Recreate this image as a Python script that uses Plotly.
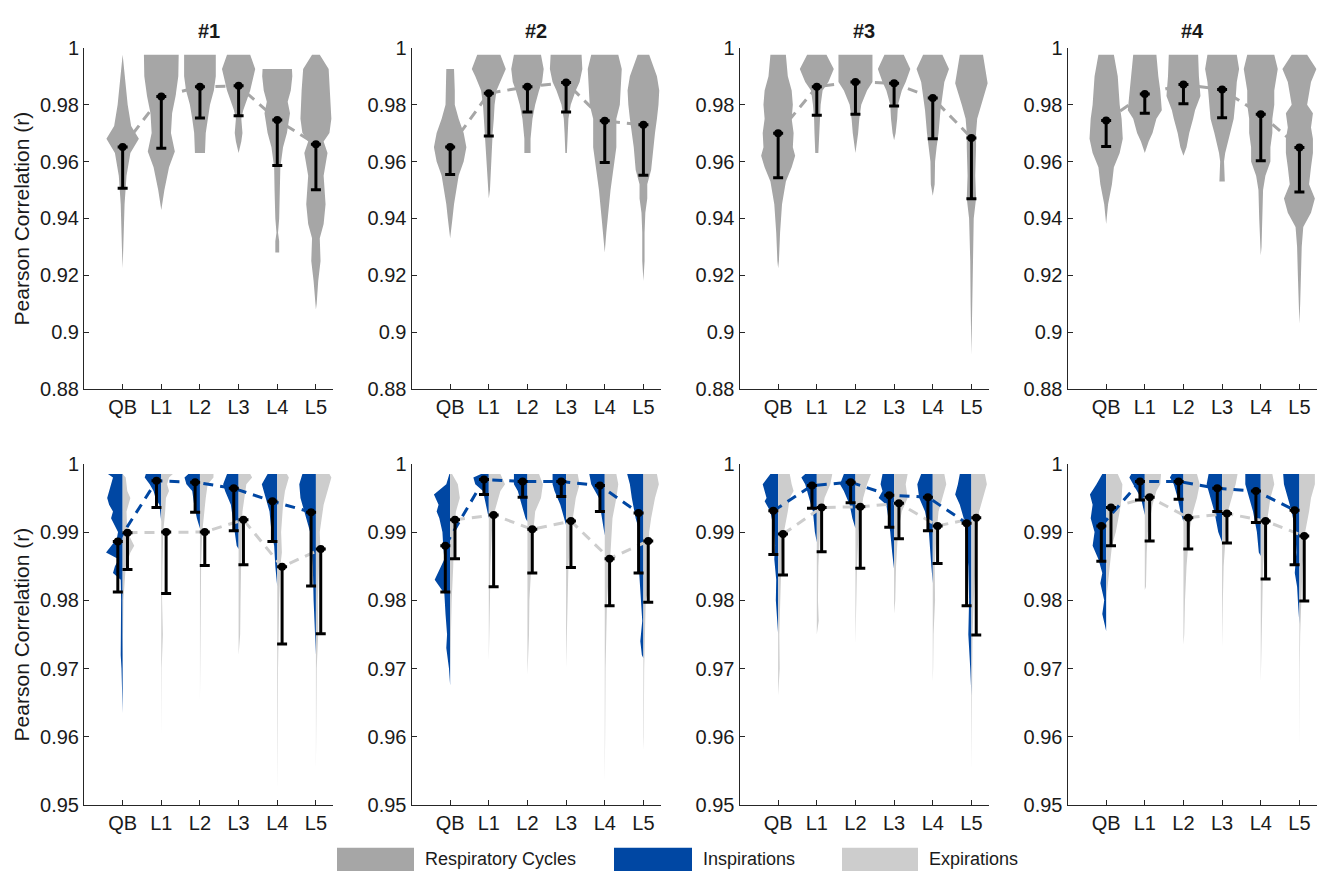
import plotly.graph_objects as go

# ---------------- data ----------------
categories = ["QB", "L1", "L2", "L3", "L4", "L5"]
subjects = ["#1", "#2", "#3", "#4"]
legend_names = ["Respiratory Cycles", "Inspirations", "Expirations"]

top_ticks = [0.88, 0.90, 0.92, 0.94, 0.96, 0.98, 1.00]
top_ticktext = ["0.88", "0.9", "0.92", "0.94", "0.96", "0.98", "1"]
bot_ticks = [0.95, 0.96, 0.97, 0.98, 0.99, 1.00]
bot_ticktext = ["0.95", "0.96", "0.97", "0.98", "0.99", "1"]

# Respiratory cycles (top row): dot value and lower whisker end
cyc_dot = [
    [0.9651, 0.9829, 0.9863, 0.9866, 0.9746, 0.9661],
    [0.9651, 0.9840, 0.9863, 0.9878, 0.9743, 0.9729],
    [0.9699, 0.9863, 0.9880, 0.9875, 0.9823, 0.9683],
    [0.9744, 0.9837, 0.9871, 0.9853, 0.9766, 0.9649],
]
cyc_low = [
    [0.9506, 0.9647, 0.9753, 0.9761, 0.9586, 0.9501],
    [0.9554, 0.9690, 0.9774, 0.9774, 0.9597, 0.9552],
    [0.9543, 0.9763, 0.9766, 0.9795, 0.9680, 0.9469],
    [0.9653, 0.9770, 0.9803, 0.9754, 0.9603, 0.9493],
]
# Inspirations / Expirations (bottom row)
insp_dot = [
    [0.9886, 0.9975, 0.9973, 0.9964, 0.9945, 0.9929],
    [0.9880, 0.9977, 0.9974, 0.9974, 0.9968, 0.9928],
    [0.9931, 0.9968, 0.9973, 0.9954, 0.9951, 0.9913],
    [0.9909, 0.9974, 0.9974, 0.9964, 0.9960, 0.9932],
]
insp_low = [
    [0.9812, 0.9936, 0.9929, 0.9902, 0.9886, 0.9821],
    [0.9812, 0.9955, 0.9951, 0.9952, 0.9930, 0.9840],
    [0.9867, 0.9935, 0.9943, 0.9907, 0.9902, 0.9792],
    [0.9857, 0.9947, 0.9948, 0.9930, 0.9914, 0.9852],
]
exp_dot = [
    [0.9899, 0.9900, 0.9900, 0.9918, 0.9849, 0.9875],
    [0.9918, 0.9925, 0.9904, 0.9916, 0.9861, 0.9887],
    [0.9897, 0.9936, 0.9937, 0.9942, 0.9909, 0.9921],
    [0.9936, 0.9951, 0.9921, 0.9927, 0.9916, 0.9894],
]
exp_low = [
    [0.9845, 0.9810, 0.9851, 0.9852, 0.9736, 0.9751],
    [0.9861, 0.9820, 0.9840, 0.9848, 0.9792, 0.9797],
    [0.9837, 0.9871, 0.9847, 0.9890, 0.9854, 0.9749],
    [0.9880, 0.9887, 0.9875, 0.9884, 0.9831, 0.9799],
]

# Violin outlines: (r value, half width in category units)
cyc_shape_1 = [
    [(0.9975, 0), (0.99, 0.06), (0.98, 0.13), (0.9725, 0.22), (0.968, 0.42), (0.963, 0.2), (0.955, 0.1), (0.945, 0.05), (0.935, 0.04), (0.93, 0.02), (0.9225, 0)],
    [(0.9975, 0.45), (0.99, 0.44), (0.983, 0.37), (0.977, 0.28), (0.97, 0.25), (0.9635, 0.35), (0.958, 0.2), (0.95, 0.08), (0.943, 0)],
    [(0.9975, 0.41), (0.99, 0.41), (0.985, 0.36), (0.98, 0.26), (0.975, 0.2), (0.97, 0.15), (0.963, 0.13)],
    [(0.9975, 0.3), (0.9925, 0.43), (0.985, 0.3), (0.978, 0.12), (0.975, 0.07), (0.97, 0.1), (0.967, 0.07), (0.963, 0)],
    [(0.9925, 0.38), (0.99, 0.39), (0.985, 0.35), (0.981, 0.27), (0.977, 0.33), (0.97, 0.25), (0.965, 0.15), (0.958, 0.08), (0.95, 0.07), (0.94, 0.05), (0.935, 0.02), (0.932, 0.05), (0.928, 0.05)],
    [(0.9975, 0.1), (0.9925, 0.33), (0.985, 0.37), (0.975, 0.4), (0.97, 0.35), (0.967, 0.2), (0.963, 0.3), (0.955, 0.2), (0.945, 0.25), (0.938, 0.2), (0.933, 0.1), (0.925, 0.12), (0.918, 0.06), (0.91, 0.02), (0.908, 0)],
]
cyc_shape_2 = [
    [(0.9925, 0.1), (0.985, 0.12), (0.98, 0.12), (0.975, 0.22), (0.97, 0.35), (0.965, 0.42), (0.96, 0.35), (0.955, 0.22), (0.945, 0.1), (0.94, 0.06), (0.933, 0)],
    [(0.9975, 0.3), (0.9925, 0.44), (0.99, 0.35), (0.985, 0.2), (0.98, 0.15), (0.975, 0.13), (0.97, 0.1), (0.96, 0.06), (0.95, 0.03), (0.947, 0)],
    [(0.9975, 0.35), (0.9925, 0.42), (0.988, 0.38), (0.985, 0.3), (0.98, 0.2), (0.975, 0.13), (0.968, 0.08), (0.963, 0.08)],
    [(0.9975, 0.4), (0.9925, 0.42), (0.988, 0.35), (0.985, 0.25), (0.98, 0.12), (0.975, 0.06), (0.97, 0.04), (0.963, 0.02)],
    [(0.9975, 0.35), (0.9925, 0.44), (0.985, 0.41), (0.98, 0.39), (0.975, 0.3), (0.97, 0.3), (0.965, 0.3), (0.96, 0.25), (0.95, 0.15), (0.94, 0.08), (0.935, 0.04), (0.928, 0)],
    [(0.9975, 0.15), (0.99, 0.35), (0.985, 0.41), (0.98, 0.39), (0.975, 0.35), (0.97, 0.3), (0.965, 0.25), (0.957, 0.2), (0.952, 0.1), (0.947, 0.1), (0.942, 0.05), (0.935, 0.03), (0.925, 0.03), (0.918, 0)],
]
cyc_shape_3 = [
    [(0.9975, 0.2), (0.99, 0.25), (0.985, 0.35), (0.98, 0.38), (0.975, 0.35), (0.97, 0.4), (0.965, 0.38), (0.962, 0.44), (0.958, 0.35), (0.953, 0.2), (0.945, 0.1), (0.935, 0.05), (0.925, 0.02), (0.9225, 0)],
    [(0.9975, 0.25), (0.9925, 0.44), (0.988, 0.3), (0.985, 0.15), (0.98, 0.1), (0.975, 0.07), (0.97, 0.06), (0.963, 0.04)],
    [(0.9975, 0.44), (0.988, 0.44), (0.985, 0.3), (0.98, 0.15), (0.975, 0.1), (0.97, 0.07), (0.963, 0)],
    [(0.9975, 0.25), (0.9925, 0.42), (0.988, 0.3), (0.985, 0.2), (0.98, 0.1), (0.975, 0.08), (0.97, 0.04), (0.9675, 0)],
    [(0.9975, 0.25), (0.9925, 0.42), (0.988, 0.3), (0.983, 0.25), (0.978, 0.2), (0.97, 0.15), (0.965, 0.1), (0.96, 0.06), (0.952, 0.05), (0.948, 0)],
    [(0.9975, 0.3), (0.9875, 0.42), (0.98, 0.25), (0.975, 0.15), (0.97, 0.12), (0.965, 0.12), (0.955, 0.1), (0.947, 0.12), (0.94, 0.06), (0.935, 0.05), (0.925, 0.03), (0.91, 0.02), (0.9, 0.01), (0.892, 0)],
]
cyc_shape_4 = [
    [(0.9975, 0.2), (0.99, 0.3), (0.98, 0.35), (0.975, 0.4), (0.968, 0.43), (0.963, 0.35), (0.958, 0.2), (0.952, 0.15), (0.945, 0.05), (0.938, 0)],
    [(0.9975, 0.3), (0.99, 0.35), (0.985, 0.4), (0.978, 0.44), (0.975, 0.3), (0.97, 0.2), (0.967, 0.1), (0.963, 0)],
    [(0.9975, 0.38), (0.99, 0.4), (0.983, 0.44), (0.978, 0.3), (0.975, 0.25), (0.97, 0.15), (0.965, 0.08), (0.962, 0)],
    [(0.9975, 0.38), (0.9925, 0.44), (0.988, 0.38), (0.982, 0.35), (0.975, 0.3), (0.97, 0.2), (0.963, 0.08), (0.96, 0.05), (0.953, 0.07)],
    [(0.9975, 0.35), (0.9925, 0.44), (0.985, 0.35), (0.98, 0.35), (0.975, 0.3), (0.97, 0.3), (0.965, 0.25), (0.96, 0.25), (0.955, 0.12), (0.95, 0.06), (0.94, 0.04), (0.93, 0.02), (0.927, 0)],
    [(0.9975, 0.2), (0.9925, 0.44), (0.988, 0.3), (0.98, 0.2), (0.977, 0.35), (0.972, 0.3), (0.968, 0.35), (0.963, 0.35), (0.958, 0.3), (0.952, 0.25), (0.947, 0.4), (0.942, 0.3), (0.937, 0.1), (0.93, 0.06), (0.92, 0.04), (0.91, 0.02), (0.903, 0)],
]

insp_shape_1 = [
    [(0.9985, 0.38), (0.998, 0.25), (0.997, 0.3), (0.996, 0.35), (0.995, 0.4), (0.994, 0.35), (0.993, 0.25), (0.992, 0.3), (0.991, 0.2), (0.99, 0.12), (0.989, 0.15), (0.988, 0.3), (0.987, 0.43), (0.986, 0.1), (0.985, 0.2), (0.984, 0.25), (0.983, 0.05), (0.98, 0.04), (0.975, 0.05), (0.972, 0.05), (0.97, 0.03), (0.9635, 0)],
    [(0.9985, 0.4), (0.998, 0.43), (0.997, 0.3), (0.996, 0.2), (0.995, 0.15), (0.994, 0.05), (0.9915, 0)],
    [(0.9985, 0.3), (0.998, 0.4), (0.997, 0.35), (0.996, 0.2), (0.994, 0.15), (0.992, 0.08), (0.9905, 0)],
    [(0.9985, 0.3), (0.997, 0.4), (0.996, 0.35), (0.994, 0.2), (0.992, 0.15), (0.99, 0.1), (0.988, 0.05), (0.9875, 0)],
    [(0.9985, 0.25), (0.997, 0.4), (0.996, 0.35), (0.995, 0.3), (0.993, 0.2), (0.99, 0.15), (0.988, 0.08), (0.985, 0.05), (0.982, 0)],
    [(0.9985, 0.35), (0.997, 0.43), (0.995, 0.4), (0.993, 0.3), (0.99, 0.15), (0.987, 0.1), (0.985, 0.08), (0.98, 0.06), (0.975, 0.03), (0.972, 0)],
]
insp_shape_2 = [
    [(0.9985, 0.02), (0.997, 0.1), (0.996, 0.3), (0.9955, 0.42), (0.994, 0.3), (0.993, 0.35), (0.992, 0.28), (0.99, 0.2), (0.988, 0.18), (0.986, 0.15), (0.983, 0.4), (0.981, 0.15), (0.978, 0.12), (0.975, 0.08), (0.973, 0.1), (0.97, 0.03), (0.9675, 0)],
    [(0.9985, 0.2), (0.998, 0.4), (0.997, 0.35), (0.996, 0.15), (0.994, 0.08), (0.992, 0)],
    [(0.9985, 0.35), (0.997, 0.35), (0.996, 0.25), (0.994, 0.15), (0.992, 0.05), (0.9915, 0)],
    [(0.9985, 0.35), (0.997, 0.35), (0.996, 0.3), (0.994, 0.15), (0.992, 0.05), (0.991, 0)],
    [(0.9985, 0.4), (0.997, 0.35), (0.995, 0.15), (0.993, 0.1), (0.991, 0.05), (0.9895, 0)],
    [(0.9985, 0.42), (0.997, 0.35), (0.995, 0.3), (0.992, 0.2), (0.99, 0.1), (0.985, 0.12), (0.982, 0.08), (0.98, 0.06), (0.977, 0.03), (0.974, 0.08), (0.972, 0.04), (0.9715, 0)],
]
insp_shape_3 = [
    [(0.9985, 0.2), (0.997, 0.4), (0.995, 0.3), (0.9945, 0.35), (0.993, 0.2), (0.99, 0.1), (0.988, 0.08), (0.986, 0.1), (0.983, 0.05), (0.98, 0.06), (0.978, 0.03), (0.975, 0)],
    [(0.9985, 0.3), (0.998, 0.4), (0.997, 0.3), (0.995, 0.2), (0.993, 0.1), (0.99, 0.05), (0.9885, 0)],
    [(0.9985, 0.3), (0.997, 0.4), (0.996, 0.3), (0.994, 0.15), (0.992, 0.08), (0.9905, 0)],
    [(0.9985, 0.3), (0.997, 0.35), (0.996, 0.3), (0.995, 0.4), (0.994, 0.2), (0.992, 0.15), (0.99, 0.1), (0.987, 0.05), (0.9845, 0)],
    [(0.9985, 0.3), (0.997, 0.4), (0.995, 0.35), (0.993, 0.2), (0.99, 0.1), (0.986, 0.05), (0.9825, 0)],
    [(0.9985, 0.3), (0.997, 0.35), (0.9955, 0.42), (0.994, 0.3), (0.992, 0.2), (0.99, 0.15), (0.987, 0.1), (0.985, 0.08), (0.98, 0.06), (0.975, 0.08), (0.97, 0.03), (0.966, 0)],
]
insp_shape_4 = [
    [(0.9985, 0.1), (0.997, 0.25), (0.9955, 0.42), (0.994, 0.35), (0.992, 0.4), (0.99, 0.3), (0.988, 0.35), (0.986, 0.2), (0.984, 0.1), (0.9825, 0.15), (0.98, 0.05), (0.978, 0.1), (0.9765, 0.03), (0.9755, 0)],
    [(0.9985, 0.35), (0.998, 0.4), (0.997, 0.3), (0.996, 0.2), (0.995, 0.1), (0.993, 0.02), (0.9925, 0)],
    [(0.9985, 0.3), (0.998, 0.35), (0.997, 0.25), (0.995, 0.15), (0.993, 0.08), (0.9915, 0)],
    [(0.9985, 0.35), (0.997, 0.4), (0.995, 0.3), (0.993, 0.2), (0.99, 0.1), (0.9885, 0)],
    [(0.9985, 0.4), (0.997, 0.4), (0.995, 0.3), (0.993, 0.2), (0.99, 0.1), (0.987, 0.05), (0.9865, 0)],
    [(0.9985, 0.42), (0.997, 0.4), (0.995, 0.3), (0.993, 0.2), (0.99, 0.1), (0.987, 0.08), (0.984, 0.12), (0.982, 0.06), (0.98, 0.04), (0.9765, 0)],
]

exp_shape_1 = [
    [(0.9985, 0), (0.998, 0.08), (0.996, 0.12), (0.995, 0.2), (0.994, 0.15), (0.993, 0.1), (0.99, 0.12), (0.988, 0.3), (0.987, 0.2), (0.985, 0.08), (0.98, 0.02), (0.975, 0.01), (0.97, 0)],
    [(0.9985, 0.3), (0.998, 0.2), (0.997, 0.15), (0.996, 0.2), (0.995, 0.12), (0.993, 0.1), (0.99, 0.05), (0.985, 0.03), (0.98, 0.02), (0.975, 0.04), (0.97, 0.01), (0.96, 0)],
    [(0.9985, 0.35), (0.998, 0.35), (0.997, 0.2), (0.995, 0.15), (0.993, 0.12), (0.99, 0.06), (0.985, 0.03), (0.98, 0.02), (0.975, 0.02), (0.965, 0)],
    [(0.9985, 0.3), (0.998, 0.35), (0.997, 0.2), (0.995, 0.15), (0.993, 0.1), (0.99, 0.08), (0.985, 0.06), (0.98, 0.05), (0.975, 0.04), (0.972, 0)],
    [(0.9985, 0.25), (0.998, 0.3), (0.996, 0.2), (0.994, 0.15), (0.99, 0.1), (0.987, 0.12), (0.985, 0.08), (0.98, 0.05), (0.975, 0.03), (0.97, 0.02), (0.96, 0.01), (0.952, 0)],
    [(0.9985, 0.35), (0.998, 0.4), (0.996, 0.3), (0.994, 0.2), (0.992, 0.15), (0.99, 0.1), (0.987, 0.12), (0.985, 0.08), (0.98, 0.05), (0.975, 0.06), (0.97, 0.02), (0.96, 0.01), (0.955, 0)],
]
exp_shape_2 = [
    [(0.9985, 0.05), (0.997, 0.2), (0.995, 0.25), (0.993, 0.15), (0.99, 0.1), (0.985, 0.08), (0.98, 0.04), (0.975, 0.02), (0.97, 0)],
    [(0.9985, 0.3), (0.997, 0.42), (0.996, 0.3), (0.994, 0.2), (0.992, 0.1), (0.99, 0.08), (0.985, 0.04), (0.98, 0.03), (0.975, 0.02), (0.971, 0)],
    [(0.9985, 0.3), (0.997, 0.4), (0.995, 0.35), (0.993, 0.2), (0.99, 0.15), (0.985, 0.1), (0.98, 0.05), (0.975, 0.04), (0.97, 0.02), (0.969, 0)],
    [(0.9985, 0.3), (0.997, 0.35), (0.995, 0.25), (0.993, 0.2), (0.99, 0.12), (0.985, 0.06), (0.98, 0.04), (0.975, 0.02), (0.97, 0)],
    [(0.9985, 0.3), (0.997, 0.35), (0.995, 0.3), (0.992, 0.2), (0.989, 0.18), (0.987, 0.15), (0.985, 0.12), (0.98, 0.06), (0.975, 0.04), (0.97, 0.02), (0.96, 0.01), (0.953, 0)],
    [(0.9985, 0.35), (0.997, 0.4), (0.995, 0.3), (0.992, 0.2), (0.99, 0.15), (0.985, 0.12), (0.982, 0.15), (0.98, 0.06), (0.975, 0.04), (0.97, 0.02), (0.96, 0.01), (0.958, 0)],
]
exp_shape_3 = [
    [(0.9985, 0.3), (0.997, 0.35), (0.996, 0.4), (0.995, 0.3), (0.993, 0.25), (0.99, 0.15), (0.988, 0.1), (0.985, 0.08), (0.98, 0.05), (0.975, 0.03), (0.97, 0.04), (0.966, 0)],
    [(0.9985, 0.4), (0.997, 0.35), (0.995, 0.2), (0.993, 0.15), (0.99, 0.08), (0.985, 0.04), (0.98, 0.03), (0.977, 0.05), (0.975, 0)],
    [(0.9985, 0.4), (0.997, 0.3), (0.995, 0.2), (0.993, 0.15), (0.99, 0.08), (0.985, 0.04), (0.98, 0.02), (0.9735, 0)],
    [(0.9985, 0.35), (0.997, 0.3), (0.995, 0.35), (0.993, 0.2), (0.99, 0.1), (0.985, 0.05), (0.98, 0.03), (0.978, 0)],
    [(0.9985, 0.3), (0.997, 0.35), (0.995, 0.25), (0.993, 0.15), (0.99, 0.1), (0.985, 0.05), (0.98, 0.06), (0.975, 0.02), (0.97, 0.01), (0.968, 0)],
    [(0.9985, 0.35), (0.997, 0.4), (0.995, 0.3), (0.993, 0.2), (0.99, 0.15), (0.985, 0.1), (0.98, 0.06), (0.975, 0.03), (0.97, 0.02), (0.96, 0.01), (0.955, 0)],
]
exp_shape_4 = [
    [(0.9985, 0.3), (0.997, 0.42), (0.995, 0.4), (0.993, 0.35), (0.99, 0.25), (0.988, 0.15), (0.985, 0.1), (0.983, 0.05), (0.98, 0)],
    [(0.9985, 0.42), (0.997, 0.4), (0.996, 0.3), (0.994, 0.2), (0.99, 0.08), (0.987, 0.05), (0.985, 0.04), (0.982, 0.03), (0.9815, 0)],
    [(0.9985, 0.35), (0.997, 0.42), (0.995, 0.35), (0.993, 0.25), (0.99, 0.15), (0.985, 0.08), (0.98, 0.04), (0.975, 0.02), (0.9735, 0)],
    [(0.9985, 0.4), (0.997, 0.35), (0.995, 0.25), (0.993, 0.15), (0.99, 0.1), (0.985, 0.04), (0.98, 0.02), (0.973, 0)],
    [(0.9985, 0.3), (0.997, 0.35), (0.995, 0.25), (0.993, 0.2), (0.99, 0.12), (0.985, 0.06), (0.98, 0.04), (0.975, 0.02), (0.97, 0.01), (0.968, 0)],
    [(0.9985, 0.4), (0.997, 0.4), (0.995, 0.3), (0.993, 0.25), (0.99, 0.15), (0.985, 0.08), (0.98, 0.05), (0.975, 0.02), (0.97, 0.01), (0.96, 0.005), (0.958, 0)],
]

cyc_shapes = [cyc_shape_1, cyc_shape_2, cyc_shape_3, cyc_shape_4]
insp_shapes = [insp_shape_1, insp_shape_2, insp_shape_3, insp_shape_4]
exp_shapes = [exp_shape_1, exp_shape_2, exp_shape_3, exp_shape_4]

# ---------------- style ----------------
FONT = "Liberation Sans, Arial, Helvetica, sans-serif"
TXT = "#1a1a1a"
AX = "#262626"
C_CYC = "#a6a6a6"
C_INSP = "#0047a3"
C_EXP = "#cdcdcd"
W, H = 1323, 885
SIDE = 0.125  # horizontal offset of split error bars

panel_left_px = [84.0, 411.5, 739.5, 1067.5]
panel_w_px = 249.3
row_top_px = [(37.7, 387.7), (464.3, 814.3)]
x_range = [0, 6.45]
positions = list(range(1, len(categories) + 1))


def full_violin(profiles):
    xs, ys = [], []
    for pos, prof in zip(positions, profiles):
        xs += [pos - w for _, w in prof] + [pos + w for _, w in reversed(prof)] + [None]
        ys += [y for y, _ in prof] + [y for y, _ in reversed(prof)] + [None]
    return xs, ys


def half_violin(profiles, sign):
    xs, ys = [], []
    for pos, prof in zip(positions, profiles):
        xs += [pos] + [pos + sign * w for _, w in prof] + [pos, None]
        ys += [prof[0][0]] + [y for y, _ in prof] + [prof[-1][0], None]
    return xs, ys


def errbar(xs, dots, lows, xa, ya):
    return go.Scatter(
        x=xs, y=dots, xaxis=xa, yaxis=ya, mode="markers",
        marker=dict(color="black", size=8),
        error_y=dict(type="data", symmetric=False,
                     array=[0] * len(dots),
                     arrayminus=[d - l for d, l in zip(dots, lows)],
                     color="black", thickness=3, width=5),
        hoverinfo="skip", showlegend=False,
    )


def dashed(xs, ys, color, xa, ya):
    return go.Scatter(x=xs, y=ys, xaxis=xa, yaxis=ya, mode="lines",
                      line=dict(color=color, width=3, dash="10px,7px"),
                      hoverinfo="skip", showlegend=False)


fig = go.Figure()
layout = dict(
    width=W, height=H, autosize=False, margin=dict(l=0, r=0, t=0, b=0, pad=0),
    paper_bgcolor="white", plot_bgcolor="white", showlegend=False,
    font=dict(family=FONT, size=20, color=TXT),
)

annotations = []
shapes = []

for r in range(2):
    for p in range(4):
        n = r * 4 + p + 1
        xa, ya = f"x{n}" if n > 1 else "x", f"y{n}" if n > 1 else "y"
        xkey = f"xaxis{n}" if n > 1 else "xaxis"
        ykey = f"yaxis{n}" if n > 1 else "yaxis"
        x0 = panel_left_px[p] / W
        x1 = (panel_left_px[p] + panel_w_px) / W
        ytop, ybot = row_top_px[r]
        layout[xkey] = dict(
            domain=[x0, x1], anchor=ya, range=x_range,
            tickmode="array", tickvals=positions, ticktext=categories,
            showline=True, linecolor=AX, linewidth=1, ticks="inside",
            ticklen=5, tickcolor=AX, showgrid=False, zeroline=False,
            tickfont=dict(size=20, color=TXT, family=FONT), fixedrange=True,
        )
        layout[ykey] = dict(
            domain=[1 - ybot / H, 1 - ytop / H], anchor=xa,
            range=[0.88, 1.0] if r == 0 else [0.95, 1.0],
            tickmode="array",
            tickvals=top_ticks if r == 0 else bot_ticks,
            ticktext=top_ticktext if r == 0 else bot_ticktext,
            showline=True, linecolor=AX, linewidth=1, ticks="inside",
            ticklen=5, tickcolor=AX, showgrid=False, zeroline=False,
            tickfont=dict(size=20, color=TXT, family=FONT), fixedrange=True,
        )

        if r == 0:
            fig.add_trace(dashed(positions, cyc_dot[p], C_CYC, xa, ya))
            vx, vy = full_violin(cyc_shapes[p])
            fig.add_trace(go.Scatter(x=vx, y=vy, xaxis=xa, yaxis=ya, mode="lines",
                                     fill="toself", fillcolor=C_CYC,
                                     line=dict(width=0, color=C_CYC),
                                     hoverinfo="skip", showlegend=False))
            fig.add_trace(errbar(positions, cyc_dot[p], cyc_low[p], xa, ya))
            annotations.append(dict(
                text=f"<b>{subjects[p]}</b>", xref="paper", yref="paper",
                x=(panel_left_px[p] + panel_w_px / 2) / W, y=1 - 21 / H,
                xanchor="center", yanchor="middle", showarrow=False,
                font=dict(size=20, color=TXT, family=FONT)))
        else:
            bx, by = half_violin(insp_shapes[p], -1)
            fig.add_trace(go.Scatter(x=bx, y=by, xaxis=xa, yaxis=ya, mode="lines",
                                     fill="toself", fillcolor=C_INSP,
                                     line=dict(width=0, color=C_INSP),
                                     hoverinfo="skip", showlegend=False))
            gx, gy = half_violin(exp_shapes[p], 1)
            fig.add_trace(go.Scatter(x=gx, y=gy, xaxis=xa, yaxis=ya, mode="lines",
                                     fill="toself", fillcolor=C_EXP,
                                     line=dict(width=0, color=C_EXP),
                                     hoverinfo="skip", showlegend=False))
            left_x = [c - SIDE for c in positions]
            right_x = [c + SIDE for c in positions]
            fig.add_trace(dashed(right_x, exp_dot[p], C_EXP, xa, ya))
            fig.add_trace(dashed(left_x, insp_dot[p], C_INSP, xa, ya))
            fig.add_trace(errbar(left_x, insp_dot[p], insp_low[p], xa, ya))
            fig.add_trace(errbar(right_x, exp_dot[p], exp_low[p], xa, ya))

    # y-axis title for the row
    ytop, ybot = row_top_px[r]
    annotations.append(dict(
        text="Pearson Correlation (r)", xref="paper", yref="paper",
        x=21 / W, y=1 - (ytop + ybot) / 2 / H, textangle=-90,
        xanchor="center", yanchor="middle", showarrow=False,
        font=dict(size=21, color=TXT, family=FONT)))

# legend (swatches + labels)
legend_colors = [C_CYC, C_INSP, C_EXP]
legend_swatch_px = [(337, 414), (614, 692), (842, 918)]
for name, col, (sx0, sx1) in zip(legend_names, legend_colors, legend_swatch_px):
    shapes.append(dict(type="rect", xref="paper", yref="paper",
                       x0=sx0 / W, x1=sx1 / W, y0=1 - 882 / H, y1=1 - 858 / H,
                       fillcolor=col, line=dict(width=0)))
    annotations.append(dict(text=name, xref="paper", yref="paper",
                            x=(sx1 + 9) / W, y=1 - 870 / H,
                            xanchor="left", yanchor="middle", showarrow=False,
                            font=dict(size=18, color=TXT, family=FONT)))

layout["annotations"] = annotations
layout["shapes"] = shapes
fig.update_layout(**layout)
fig.write_html(
    "out.html",
    config={"displayModeBar": False},
    post_script="document.body.style.margin='0';document.body.style.overflow='hidden';",
)
